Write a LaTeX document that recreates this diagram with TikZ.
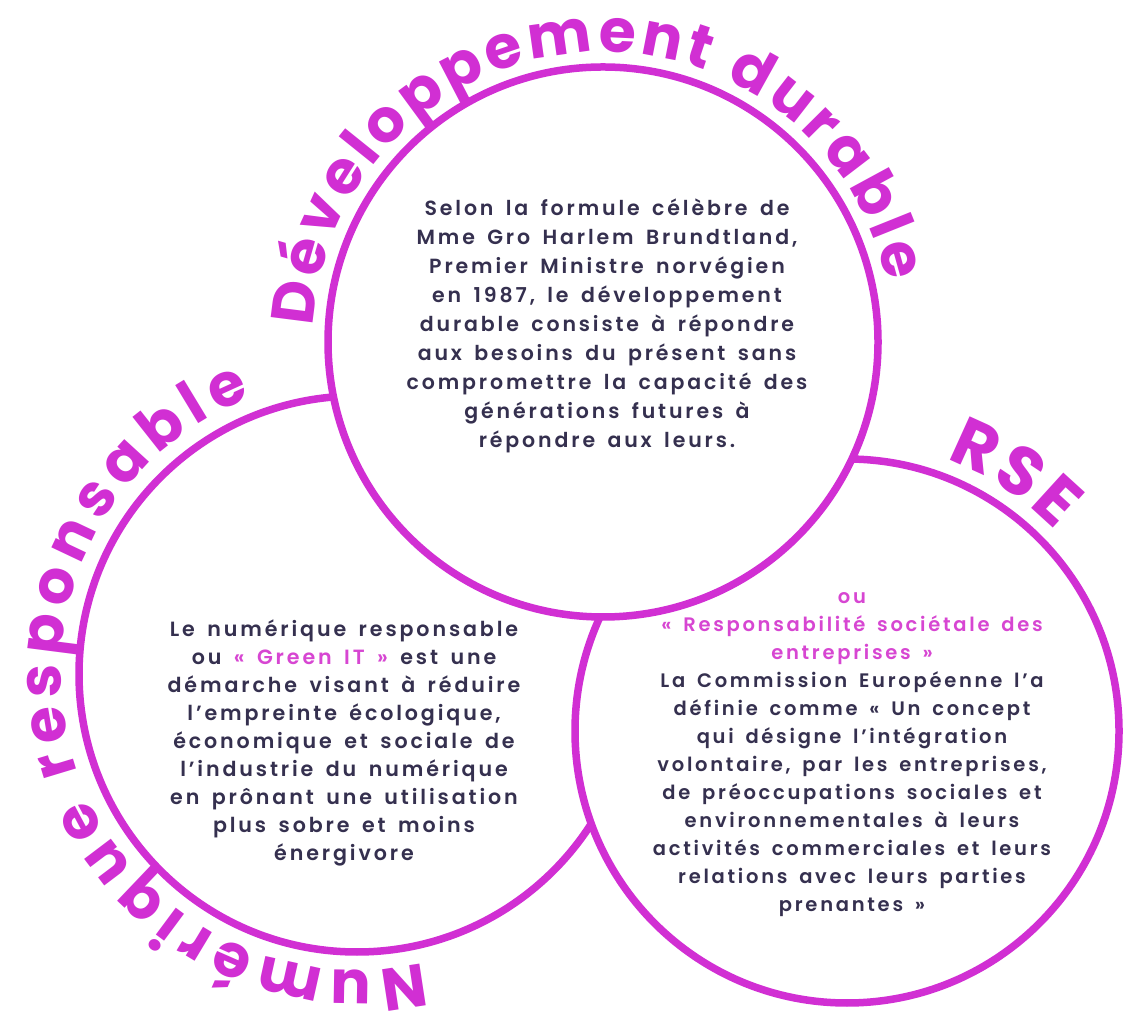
\documentclass[tikz,border=0pt]{standalone}
\usepackage{fontspec}
\usetikzlibrary{decorations.text,calc}
\newfontfamily\bodyfont[LetterSpace=14,WordSpace=1.6]{Poppins SemiBold}
\newfontfamily\arcfont{Poppins Bold}
\definecolor{mag}{HTML}{D12FD3}
\definecolor{pinktxt}{HTML}{D746D2}
\definecolor{ink}{HTML}{35304F}
\tikzset{
  circ/.style={circle, draw=mag, line width=7.5pt, fill=white, inner sep=0pt},
  bodytxt/.style={align=center, text=ink, inner sep=0pt},
  arctxt/.style={decorate, decoration={text along path, text align=fit to path, text={#1}}}
}
\begin{document}
\begin{tikzpicture}[x=1pt,y=1pt]
\useasboundingbox (0,0) rectangle (1123,1019);
\fill[white] (0,0) rectangle (1123,1019);
% circles
\node[circ, minimum size=556pt] (L) at (357,345) {};
\node[circ, minimum size=544pt] (R) at (847,288) {};
\node[circ, minimum size=550pt] (T) at (603,677) {};
% arc titles
\path[arctxt={|\color{mag}\arcfont\fontsize{60}{60}\selectfont|Développement durable}]
  ($(T.center)+(177:290)$) arc[start angle=177, end angle=12, radius=290];
\path[arctxt={|\color{mag}\arcfont\fontsize{60}{60}\selectfont|Numérique responsable}]
  ($(L.center)+(-77:296)$) arc[start angle=-77, end angle=-249, radius=296];
\path[arctxt={|\color{mag}\arcfont\fontsize{68}{68}\selectfont|RSE}]
  ($(R.center)+(70:289)$) arc[start angle=70, end angle=44, radius=289];
% body texts
\node[bodytxt, font=\bodyfont\fontsize{20.5}{29}\selectfont] (tt) at (607,693) {Selon la formule célèbre de\\
Mme Gro Harlem Brundtland,\\
Premier Ministre norvégien\\
en 1987, le développement\\
durable consiste à répondre\\
aux besoins du présent sans\\
compromettre la capacité des\\
générations futures à\\
répondre aux leurs.};
\node[bodytxt, font=\bodyfont\fontsize{20.6}{28}\selectfont] (lt) at (344,276) {Le numérique responsable\\
ou {\color{pinktxt}« Green IT »} est une\\
démarche visant à réduire\\
l’empreinte écologique,\\
économique et sociale de\\
l’industrie du numérique\\
en prônant une utilisation\\
plus sobre et moins\\
énergivore};
\node[bodytxt, font=\bodyfont\fontsize{19.5}{28}\selectfont] (rt) at (852,264.5) {{\color{pinktxt}ou}\\
{\color{pinktxt}« Responsabilité sociétale des}\\
{\color{pinktxt}entreprises »}\\
La Commission Européenne l’a\\
définie comme « Un concept\\
qui désigne l’intégration\\
volontaire, par les entreprises,\\
de préoccupations sociales et\\
environnementales à leurs\\
activités commerciales et leurs\\
relations avec leurs parties\\
prenantes »};
\end{tikzpicture}
\end{document}
